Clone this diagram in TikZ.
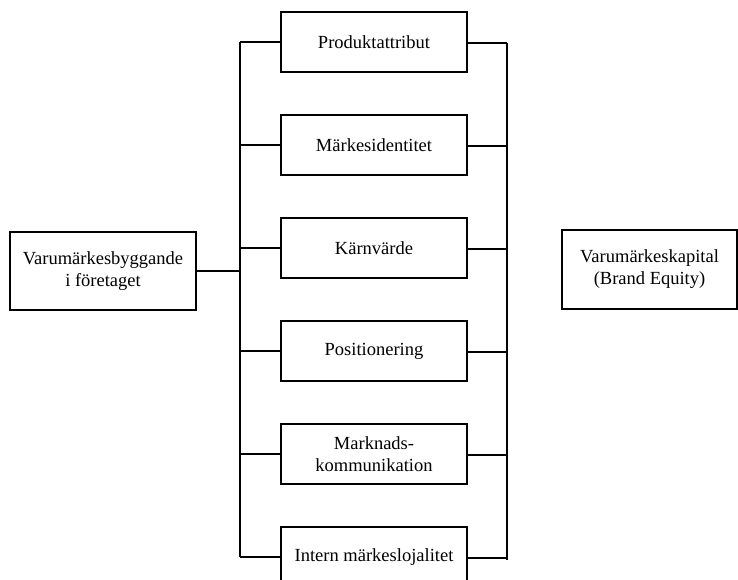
\documentclass[tikz,border=0pt]{standalone}
\usepackage{fontspec}
\setmainfont{Liberation Serif}

\begin{document}
\begin{tikzpicture}[x=1pt,y=1pt,node distance={103pt},line width=1.6pt,
    box/.style = {draw, rectangle, minimum width=186pt, minimum height=60pt, inner sep=0pt, align=center, font=\fontsize{18.5}{22}\selectfont},
    side/.style = {box, minimum height=78pt}]
        \useasboundingbox (0,0) rectangle (738,579);

        \node[box](1) at (374,537){Produktattribut};
        \node[box](2)[below of=1]{Märkesidentitet};
        \node[box](3)[below of=2]{Kärnvärde};
        \node[box](4)[below of=3]{Positionering};
        \node[box](5)[below of=4]{Marknads-\\kommunikation};
        \node[box](6)[below of=5]{Intern märkeslojalitet};

        \node[side](vb) at (103,308){Varumärkesbyggande\\i företaget};
        \node[side, minimum width=175pt, minimum height=79pt](vk) at (649.5,309.5){Varumärkeskapital\\(Brand Equity)};

        \coordinate (ltop) at (240,537);
        \coordinate (lbot) at (240,22);
        \coordinate (rtop) at (507,536);
        \coordinate (rbot) at (507,19);

        \draw (ltop) -- (lbot);
        \draw (rtop) -- (rbot);
        \draw (vb.east) -- (vb.east -| ltop);

        \foreach \n in {1,...,6}{
            \draw (\n.west) -- (\n.west -| ltop);
            \draw ([yshift=-1pt]\n.east) -- ([yshift=-1pt]\n.east -| rtop);
        }
      \end{tikzpicture}
\end{document}
